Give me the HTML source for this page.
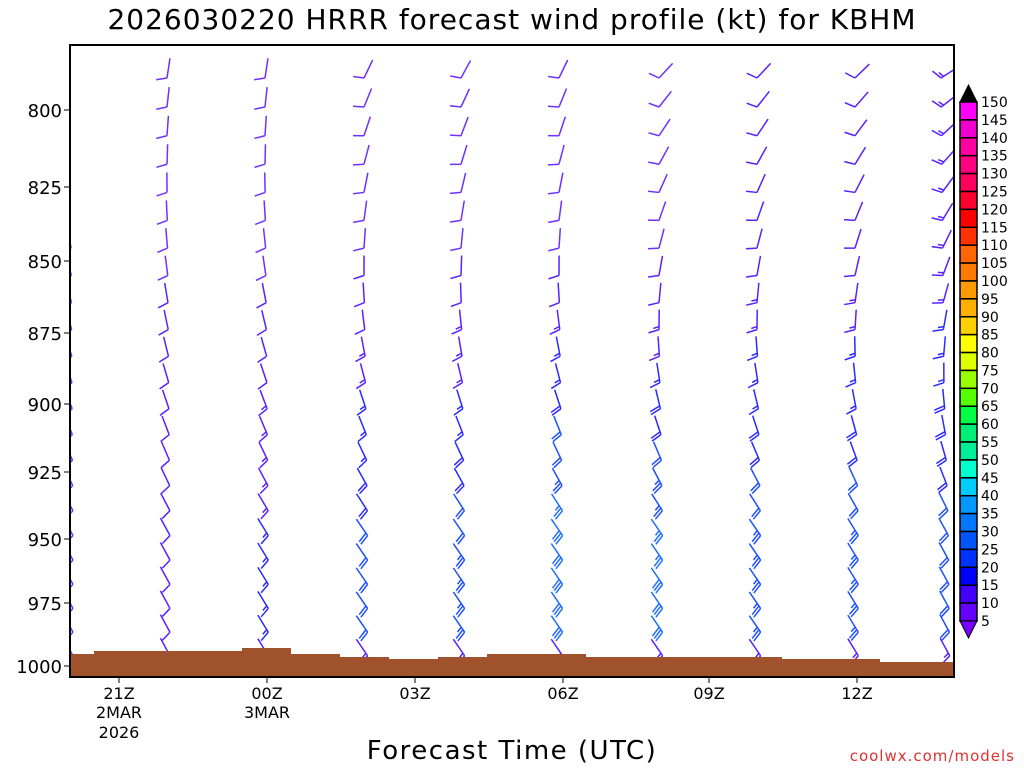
<!DOCTYPE html>
<html><head><meta charset="utf-8"><style>
body{margin:0;background:#fff;width:1024px;height:768px;overflow:hidden}
svg text{font-family:"DejaVu Sans","Liberation Sans",sans-serif}
</style></head><body>
<svg id="s" width="1024" height="768" xmlns="http://www.w3.org/2000/svg">
<rect width="1024" height="768" fill="#fff"/>
<text x="512" y="29" font-size="28" text-anchor="middle" fill="#000" letter-spacing="1">2026030220 HRRR forecast wind profile (kt) for KBHM</text>
<defs><clipPath id="c"><rect x="70" y="45" width="884" height="632"/></clipPath></defs>
<g id="barbs" clip-path="url(#c)"></g>
<polygon fill="#a0522d" points="70,677 70,654 94,654 94,651 242,651 242,648 291,648 291,654 340,654 340,657 389,657 389,659 438,659 438,657 487,657 487,654 586,654 586,657 782,657 782,659 880,659 880,662 954,662 954,677"/>
<rect x="70" y="45" width="884" height="632" fill="none" stroke="#000" stroke-width="2"/>
<g font-size="18" text-anchor="end" fill="#000">
<text x="62" y="117">800</text><text x="62" y="194">825</text><text x="62" y="268">850</text><text x="62" y="340">875</text><text x="62" y="411">900</text><text x="62" y="479">925</text><text x="62" y="546">950</text><text x="62" y="610">975</text><text x="62" y="673">1000</text>
</g>
<g stroke="#000" stroke-width="1">
<line x1="64" y1="110" x2="70" y2="110"/><line x1="64" y1="187" x2="70" y2="187"/><line x1="64" y1="261" x2="70" y2="261"/><line x1="64" y1="333" x2="70" y2="333"/><line x1="64" y1="404" x2="70" y2="404"/><line x1="64" y1="472" x2="70" y2="472"/><line x1="64" y1="539" x2="70" y2="539"/><line x1="64" y1="603" x2="70" y2="603"/><line x1="64" y1="666" x2="70" y2="666"/>
<line x1="119" y1="677" x2="119" y2="683"/><line x1="267" y1="677" x2="267" y2="683"/><line x1="415" y1="677" x2="415" y2="683"/><line x1="563" y1="677" x2="563" y2="683"/><line x1="709" y1="677" x2="709" y2="683"/><line x1="857" y1="677" x2="857" y2="683"/>
</g>
<g font-size="16" text-anchor="middle" fill="#000">
<text x="119" y="699">21Z</text><text x="119" y="718">2MAR</text><text x="119" y="738">2026</text>
<text x="267" y="699">00Z</text><text x="267" y="718">3MAR</text>
<text x="415" y="699">03Z</text><text x="563" y="699">06Z</text><text x="709" y="699">09Z</text><text x="857" y="699">12Z</text>
</g>
<text x="512" y="759" font-size="26" text-anchor="middle" fill="#000" letter-spacing="1.5">Forecast Time (UTC)</text>
<text x="1015" y="761" font-size="15" text-anchor="end" fill="#e03030" letter-spacing="1">coolwx.com/models</text>
<g id="cb"></g>
</svg>
<script>
var NS="http://www.w3.org/2000/svg";
function el(p,n,a){var e=document.createElementNS(NS,n);for(var k in a)e.setAttribute(k,a[k]);p.appendChild(e);return e;}
var cols=["#ff00ff","#f000d0","#ff00a0","#ff0080","#ff0060","#ff0030","#ff0000","#ff3300","#ff6600","#ff7a00","#ff9900","#ffb000","#ffd000","#ffff00","#ddff00","#99ff00","#55ff00","#00ff44","#00ee77","#00ee99","#00ffcc","#00ccff","#0099ff","#0077ff","#0055ff","#0033ff","#0000ff","#4400ff","#6600ff"];
var cb=document.getElementById("cb");var h=(621-102)/29;
el(cb,"polygon",{points:"960,102 977,102 968.5,85",fill:"#000",stroke:"#000"});
for(var i=0;i<29;i++){el(cb,"rect",{x:960,y:102+i*h,width:17,height:h,fill:cols[i],stroke:"#000","stroke-width":1.5});}
el(cb,"polygon",{points:"960,621 977,621 968.5,638",fill:"#7700ff",stroke:"#000"});
for(var i=0;i<30;i++){var t=el(cb,"text",{x:981,y:102+i*h+5,"font-size":"14",fill:"#000"});t.textContent=150-5*i;}
var bcol={1:"#7030ff",2:"#5a20ff",3:"#2a2aff",4:"#2050ff",5:"#2070ff",6:"#2090ff",7:"#20a0ff"};
function colr(s){var idx=Math.floor((s-0.1)/5);if(idx<1)idx=1;if(idx>7)idx=7;return bcol[idx];}
var g=document.getElementById("barbs");
var X=[70,167,265,364,461,559,659,757,855,947];
var n=24,ys=[],y=78;for(var r=0;r<n;r++){ys.push(y);y+=29-6*r/(n-1);}
function barb(x,yb,ang,spd,c){
 var L=20,dx=Math.sin(ang),dy=Math.cos(ang);var x0=x-dx*L,y0=yb-dy*L;
 var p="M"+x0+","+y0+"L"+x+","+yb;
 var th=72*Math.PI/180,bx=dx*Math.cos(th)-dy*Math.sin(th),by=dx*Math.sin(th)+dy*Math.cos(th);
 var k=Math.round(spd/5),full=Math.floor(k/2),half=k%2,pos=0;
 for(var i=0;i<full;i++){var px=x-dx*pos,py=yb-dy*pos;p+="M"+px+","+py+"l"+(bx*11)+","+(by*11);pos+=3;}
 if(half){if(full==0)pos=3;var px=x-dx*pos,py=yb-dy*pos;p+="M"+px+","+py+"l"+(bx*6)+","+(by*6);}
 el(g,"path",{d:p,stroke:c,fill:"none","stroke-width":1.5});}
var topA=[0,-0.15,-0.15,-0.45,-0.5,-0.45,-0.75,-0.75,-0.8,-1.0];
var botA=[0.5,0.5,0.55,0.6,0.6,0.6,0.6,0.6,0.55,0.5];
var peak=[10,12,16,22,24,30,28,24,24,22];
var topS=[10,10,10,10,10,10,10,12,12,14];
for(var c=0;c<X.length;c++){for(var r=0;r<n;r++){
 if(c==0&&r<6)continue;
 var f=r/(n-1);var a=topA[c]+(botA[c]-topA[c])*Math.min(1,f*1.4);
 var s=topS[c]+(peak[c]-topS[c])*Math.min(1,Math.max(0,(f-0.3)/0.5));
 if(r==n-1){s=8;a=0.8;}if(r==n-2)s=Math.min(s,15);
 var x=X[c]+(c==9?-(1-f)*6:0)+(a>0?a*6:0);
 barb(x,ys[r],a,s,colr(s));}}
</script>
</body></html>
